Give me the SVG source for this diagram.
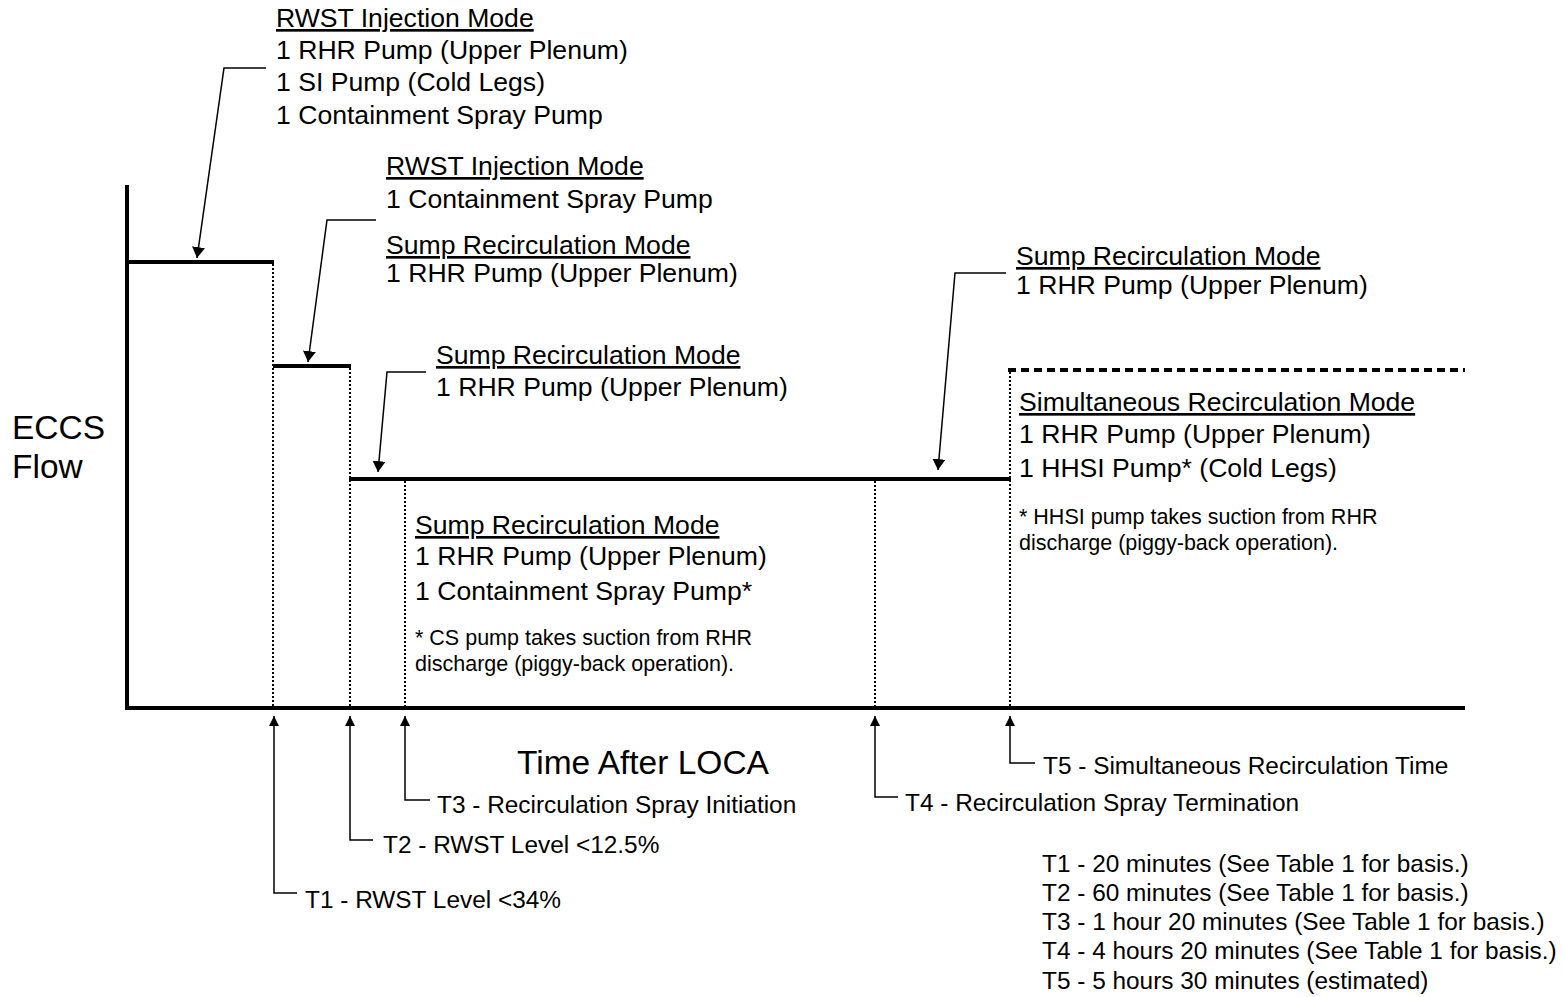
<svg xmlns="http://www.w3.org/2000/svg" width="1563" height="997" viewBox="0 0 1563 997">
<style>
text{font-family:"Liberation Sans",Arial,sans-serif;fill:#000}
.big{font-size:26.6px}
.sm{font-size:21.5px}
.t{font-size:24.4px}
.ax{font-size:33.5px}
.u{text-decoration:underline}
.thick{stroke:#000;stroke-width:4;fill:none}
.dot{stroke:#000;stroke-width:2;stroke-dasharray:2 2;fill:none}
.dash{stroke:#000;stroke-width:4;stroke-dasharray:8 5;fill:none}
.lead{stroke:#000;stroke-width:1.5;fill:none}
</style>
<defs>
<marker id="ah" viewBox="0 0 10 12" refX="10" refY="6" markerWidth="11" markerHeight="13" markerUnits="userSpaceOnUse" orient="auto">
<path d="M0,0 L10,6 L0,12 z" fill="#000"/>
</marker>
<marker id="ah2" viewBox="0 0 10 10" refX="10" refY="5" markerWidth="10" markerHeight="10" markerUnits="userSpaceOnUse" orient="auto">
<path d="M0,0 L10,5 L0,10 z" fill="#000"/>
</marker>
</defs>
<rect width="1563" height="997" fill="#fff"/>

<g id="axes">
<line class="thick" x1="127" y1="185" x2="127" y2="710"/>
<line class="thick" x1="125" y1="708" x2="1465" y2="708"/>
<text class="ax" x="12" y="439">ECCS</text>
<text class="ax" x="12" y="478">Flow</text>
<text class="ax" x="517" y="774">Time After LOCA</text>
</g>

<g id="flow-curve">
<line class="thick" x1="127" y1="262" x2="274" y2="262"/>
<line class="thick" x1="273" y1="366" x2="351" y2="366"/>
<line class="thick" x1="349" y1="479" x2="1011" y2="479"/>
<line class="dash" x1="1008" y1="370" x2="1465" y2="370"/>
<line class="dot" x1="273" y1="264" x2="273" y2="708"/>
<line class="dot" x1="350" y1="368" x2="350" y2="708"/>
<line class="dot" x1="405" y1="481" x2="405" y2="708"/>
<line class="dot" x1="875" y1="481" x2="875" y2="708"/>
<line class="dot" x1="1010" y1="372" x2="1010" y2="708"/>
</g>

<g id="connectors">
<polyline class="lead" points="266,68 224,68 197,258" marker-end="url(#ah)"/>
<polyline class="lead" points="376,220 327,220 308,362" marker-end="url(#ah)"/>
<polyline class="lead" points="426,372 387,372 378,472" marker-end="url(#ah)"/>
<polyline class="lead" points="1006,273 955,273 938,470" marker-end="url(#ah)"/>
<polyline class="lead" points="297,893 274,893 274,716" marker-end="url(#ah2)"/>
<polyline class="lead" points="373,840 350,840 350,716" marker-end="url(#ah2)"/>
<polyline class="lead" points="430,800 405,800 405,716" marker-end="url(#ah2)"/>
<polyline class="lead" points="898,797 875,797 875,716" marker-end="url(#ah2)"/>
<polyline class="lead" points="1035,763 1010,763 1010,716" marker-end="url(#ah2)"/>
</g>

<g id="mode-rwst-full">
<text class="big u" x="276" y="27">RWST Injection Mode</text>
<text class="big" x="276" y="59">1 RHR Pump (Upper Plenum)</text>
<text class="big" x="276" y="91">1 SI Pump (Cold Legs)</text>
<text class="big" x="276" y="124">1 Containment Spray Pump</text>
</g>

<g id="mode-rwst-sump">
<text class="big u" x="386" y="175">RWST Injection Mode</text>
<text class="big" x="386" y="208">1 Containment Spray Pump</text>
<text class="big u" x="386" y="254">Sump Recirculation Mode</text>
<text class="big" x="386" y="282">1 RHR Pump (Upper Plenum)</text>
</g>

<g id="mode-sump-1">
<text class="big u" x="436" y="364">Sump Recirculation Mode</text>
<text class="big" x="436" y="396">1 RHR Pump (Upper Plenum)</text>
</g>

<g id="mode-sump-spray">
<text class="big u" x="415" y="534">Sump Recirculation Mode</text>
<text class="big" x="415" y="565">1 RHR Pump (Upper Plenum)</text>
<text class="big" x="415" y="600">1 Containment Spray Pump*</text>
<text class="sm" x="415" y="645">* CS pump takes suction from RHR</text>
<text class="sm" x="415" y="671">discharge (piggy-back operation).</text>
</g>

<g id="mode-sump-2">
<text class="big u" x="1016" y="265">Sump Recirculation Mode</text>
<text class="big" x="1016" y="294">1 RHR Pump (Upper Plenum)</text>
</g>

<g id="mode-simultaneous">
<text class="big u" x="1019" y="411">Simultaneous Recirculation Mode</text>
<text class="big" x="1019" y="443">1 RHR Pump (Upper Plenum)</text>
<text class="big" x="1019" y="477">1 HHSI Pump* (Cold Legs)</text>
<text class="sm" x="1019" y="524">* HHSI pump takes suction from RHR</text>
<text class="sm" x="1019" y="550">discharge (piggy-back operation).</text>
</g>

<g id="time-labels">
<text class="t" x="305" y="908">T1 - RWST Level &lt;34%</text>
<text class="t" x="383" y="853">T2 - RWST Level &lt;12.5%</text>
<text class="t" x="437" y="813">T3 - Recirculation Spray Initiation</text>
<text class="t" x="905" y="811">T4 - Recirculation Spray Termination</text>
<text class="t" x="1043" y="774">T5 - Simultaneous Recirculation Time</text>
</g>

<g id="time-legend">
<text class="t" x="1042" y="872">T1 - 20 minutes (See Table 1 for basis.)</text>
<text class="t" x="1042" y="901">T2 - 60 minutes (See Table 1 for basis.)</text>
<text class="t" x="1042" y="930">T3 - 1 hour 20 minutes (See Table 1 for basis.)</text>
<text class="t" x="1042" y="959">T4 - 4 hours 20 minutes (See Table 1 for basis.)</text>
<text class="t" x="1042" y="989">T5 - 5 hours 30 minutes (estimated)</text>
</g>
</svg>
